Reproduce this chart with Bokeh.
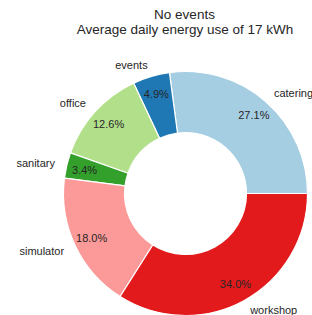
import math
from bokeh.plotting import figure
from bokeh.models import Range1d, ColumnDataSource
from bokeh.core.properties import value
from bokeh.embed import file_html
from bokeh.resources import INLINE

categories = ["catering", "events", "office", "sanitary", "simulator", "workshop"]
shares = [27.1, 4.9, 12.6, 3.4, 18.0, 34.0]
colors = ["#a6cee3", "#1f78b4", "#b2df8a", "#33a02c", "#fb9a99", "#e31a1c"]
title_lines = ["No events", "Average daily energy use of 17 kWh"]

W, H = 312, 315
cx, cy = 185, 122
R = 122
inner = 61
FONT = value("Liberation Sans")
TXT = "#262626"

total = sum(shares)
starts, ends = [], []
a = 0.0
for s in shares:
    starts.append(a)
    a += 2 * math.pi * s / total
    ends.append(a)

mids = [(s + e) / 2 for s, e in zip(starts, ends)]

src = ColumnDataSource(dict(start=starts, end=ends, color=colors))

p = figure(width=W, height=H, x_range=Range1d(0, W), y_range=Range1d(0, H),
           output_backend="svg", toolbar_location=None, min_border=0,
           x_axis_type=None, y_axis_type=None)
p.grid.visible = False
p.outline_line_color = None
p.background_fill_color = "white"
p.border_fill_color = "white"

p.annular_wedge(x=cx, y=cy, inner_radius=inner, outer_radius=R,
                start_angle="start", end_angle="end", fill_color="color",
                line_color="white", line_width=1.2, source=src)

# category labels
lx, ly, la = [], [], []
for m in mids:
    x = cx + 1.1 * R * math.cos(m)
    y = cy + 1.1 * R * math.sin(m)
    y = max(y, 6)
    lx.append(x)
    ly.append(y)
    la.append("left" if math.cos(m) > 0 else "right")
p.text(x=lx, y=ly, text=categories, text_align=la, text_baseline="middle",
       text_font=FONT, text_font_size="11px", text_color=TXT)

# percentage labels
px = [cx + 0.85 * R * math.cos(m) for m in mids]
py = [cy + 0.85 * R * math.sin(m) for m in mids]
pct = [f"{s / total * 100:.1f}%" for s in shares]
p.text(x=px, y=py, text=pct, text_align="center", text_baseline="middle",
       text_font=FONT, text_font_size="11px", text_color=TXT)

# title
p.text(x=[cx - 1, cx - 0.5], y=[301, 286], text=title_lines, text_align="center",
       text_baseline="middle", text_font=FONT, text_font_size="13.5px", text_color=TXT)

open("out.html", "w").write(file_html(p, INLINE))
